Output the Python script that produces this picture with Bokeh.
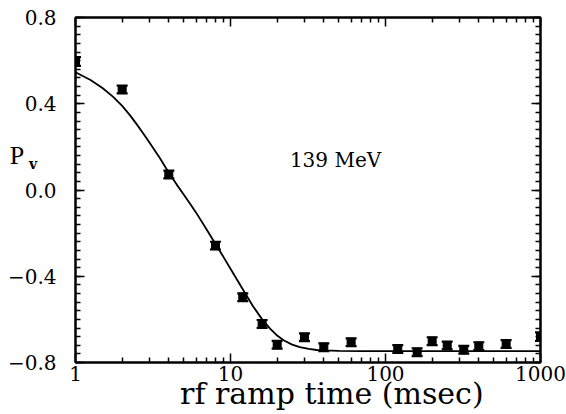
import numpy as np
from bokeh.plotting import figure
from bokeh.models import (FixedTicker, LogAxis, LinearAxis, Whisker, TeeHead, Label,
                          ColumnDataSource, CustomJSTickFormatter, Range1d)
from bokeh.embed import file_html
from bokeh.resources import INLINE

# measured data (rf ramp time in msec, vector polarization)
ramp_ms = [1, 2, 4, 8, 12, 16, 20, 30, 40, 60, 120, 160, 200, 250, 320, 400, 600, 1000]
pv = [0.596, 0.466, 0.072, -0.258, -0.497, -0.621, -0.718, -0.683, -0.729, -0.706,
      -0.737, -0.752, -0.701, -0.721, -0.741, -0.724, -0.714, -0.680]
pv_err = [0.02, 0.018, 0.018, 0.018, 0.018, 0.018, 0.018, 0.018, 0.018, 0.018,
          0.018, 0.018, 0.018, 0.018, 0.018, 0.018, 0.018, 0.02]

# fitted curve
fit_ms = [1, 1.25, 1.5, 1.75, 2, 2.25, 2.5, 2.75, 3, 3.5, 4, 4.5, 5, 5.5, 6, 7, 8, 9, 10,
          11, 12, 14, 16, 18, 20, 22, 25, 28, 32, 36, 40, 50, 70, 100, 1000]
fit_pv = [0.546, 0.51, 0.472, 0.432, 0.39, 0.346, 0.302, 0.26, 0.22, 0.148, 0.08,
          0.025, -0.022, -0.065, -0.105, -0.182, -0.25, -0.31, -0.365, -0.415, -0.46,
          -0.54, -0.6, -0.643, -0.675, -0.697, -0.717, -0.729, -0.737, -0.742, -0.744,
          -0.746, -0.747, -0.747, -0.747]

x_major = [1, 10, 100, 1000]
x_minor = [2, 3, 4, 5, 6, 7, 8, 9, 20, 30, 40, 50, 60, 70, 80, 90,
           200, 300, 400, 500, 600, 700, 800, 900]
y_major = [-0.8, -0.4, 0.0, 0.4, 0.8]
y_minor = [round(v, 2) for v in np.arange(-0.8, 0.8001, 0.04)]

annotation_text = "139 MeV"
x_title = "rf ramp time (msec)"
y_title = "P"
y_title_sub = "v"

FONT = "DejaVu Serif"
W, H = 566, 414

p = figure(width=W, height=H, x_axis_type="log",
           x_range=Range1d(1, 1000), y_range=Range1d(-0.8, 0.8),
           output_backend="svg", toolbar_location=None,
           min_border_left=75, min_border_right=26, min_border_top=17, min_border_bottom=52)
p.xgrid.visible = False
p.ygrid.visible = False
p.outline_line_color = "black"
p.outline_line_width = 2

xt = FixedTicker(ticks=x_major, minor_ticks=x_minor)
yt = FixedTicker(ticks=y_major, minor_ticks=y_minor)
yfmt = CustomJSTickFormatter(code="return (tick < -1e-9 ? '\u2212' : '') + Math.abs(tick).toFixed(1);")
xfmt = CustomJSTickFormatter(code="return Math.round(tick).toString();")

def style_axis(ax, labels=True):
    ax.axis_line_width = 2
    ax.axis_line_color = "black"
    ax.major_tick_in = 9
    ax.major_tick_out = 0
    ax.minor_tick_in = 5
    ax.minor_tick_out = 0
    ax.major_tick_line_width = 1.5
    ax.minor_tick_line_width = 1.5
    ax.major_tick_line_color = "black"
    ax.minor_tick_line_color = "black"
    if labels:
        ax.major_label_text_font = FONT
        ax.major_label_text_font_size = "20px"
        ax.major_label_text_color = "black"
    else:
        ax.major_label_text_font_size = "1px"
        ax.major_label_text_color = None
        ax.major_label_standoff = 0

xa = p.xaxis[0]
xa.ticker = xt
xa.formatter = xfmt
style_axis(xa)
xa.major_label_standoff = 3
# x title as the axis label, pulled up close to the tick labels and shifted right
xa.axis_label = "\u00a0" * 5 + x_title
xa.axis_label_text_font = FONT
xa.axis_label_text_font_size = "30px"
xa.axis_label_text_font_style = "normal"
xa.axis_label_text_color = "black"
xa.axis_label_standoff = -8

ya = p.yaxis[0]
ya.ticker = yt
ya.formatter = yfmt
style_axis(ya)
ya.major_label_standoff = 19

top = LogAxis(ticker=FixedTicker(ticks=x_major, minor_ticks=x_minor))
style_axis(top, labels=False)
p.add_layout(top, "above")
right = LinearAxis(ticker=FixedTicker(ticks=y_major, minor_ticks=y_minor))
style_axis(right, labels=False)
p.add_layout(right, "right")

# fit curve
p.line(fit_ms, fit_pv, line_color="black", line_width=1.8)

# data with error bars
src = ColumnDataSource(dict(
    t=ramp_ms, pv=pv,
    up=[v + e for v, e in zip(pv, pv_err)],
    lo=[v - e for v, e in zip(pv, pv_err)],
))
wh = Whisker(source=src, base="t", upper="up", lower="lo", dimension="height",
             line_width=2.2, line_color="black",
             upper_head=TeeHead(size=11, line_width=2.2, line_color="black"),
             lower_head=TeeHead(size=11, line_width=2.2, line_color="black"))
p.add_layout(wh)
p.scatter("t", "pv", source=src, marker="square", size=8, color="black")

p.add_layout(Label(x=47.6, y=0.141, text=annotation_text, text_font=FONT,
                   text_font_size="20px", text_align="center", text_baseline="middle",
                   text_color="black"))


def canvas_label(x, y, **kw):
    return Label(x=x, y=y, x_units="canvas", y_units="canvas", **kw)

# y title P_v: canvas pixels from the top-left; hosted in the right panel so it is not clipped
p.add_layout(canvas_label(16.5, 155, text=y_title, text_font="Liberation Serif",
                          text_font_size="26px", text_align="center", text_baseline="middle",
                          text_color="black"), "right")
p.add_layout(canvas_label(32.5, 163, text=y_title_sub, text_font=FONT,
                          text_font_style="bold", text_font_size="14px", text_align="center",
                          text_baseline="middle", text_color="black"), "right")

open("out.html", "w").write(file_html(p, INLINE))
